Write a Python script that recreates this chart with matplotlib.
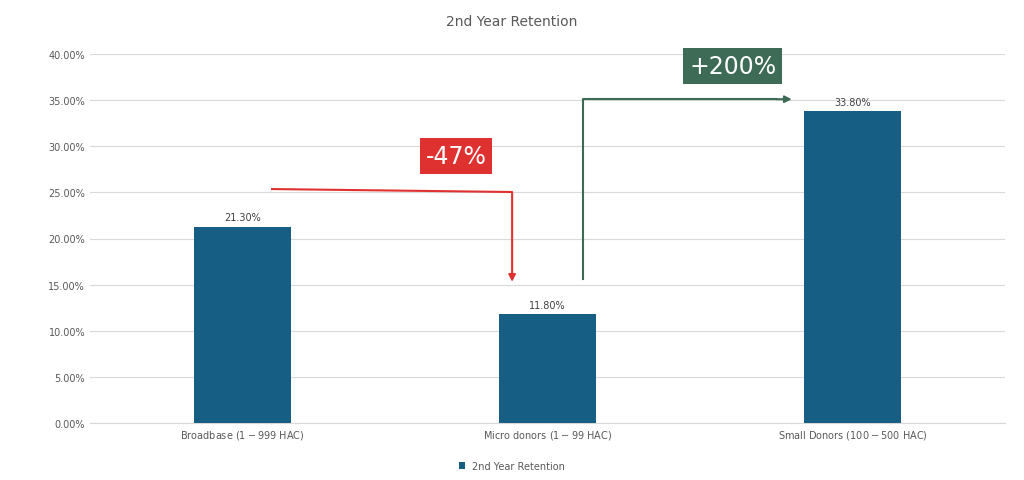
import matplotlib
matplotlib.use("Agg")
import matplotlib.pyplot as plt

categories = ["Broadbase ($1-$999 HAC)", "Micro donors ($1 - $99 HAC)", "Small Donors ($100 - $500 HAC)"]
values = [21.3, 11.8, 33.8]
series_name = "2nd Year Retention"

fig = plt.figure(figsize=(10.24, 4.81), dpi=100)
ax = fig.add_axes([90/1024, 1-424/481, 915/1024, 369/481])
x = range(len(categories))
bars = ax.bar(x, values, width=0.315, color="#175E84", label=series_name, zorder=3)
for xi, v in zip(x, values):
    ax.text(xi, v + 0.5, f"{v:.2f}%", ha="center", va="bottom", fontsize=7, color="#404040")
ax.set_xlim(-0.5, 2.5)
ax.set_ylim(0, 40)
ax.set_yticks([i*5 for i in range(9)])
ax.set_yticklabels([f"{i*5:.2f}%" for i in range(9)], fontsize=7, color="#595959")
ax.set_xticks(list(x))
ax.set_xticklabels(categories, fontsize=7, color="#595959")
ax.tick_params(length=0)
ax.grid(axis="y", color="#D9D9D9", lw=0.8, zorder=0)
for s in ["top", "right", "left"]:
    ax.spines[s].set_visible(False)
ax.spines["bottom"].set_color("#D9D9D9")
fig.suptitle("2nd Year Retention", y=1-15/481, fontsize=10, color="#595959")

red = "#E03131"
ax.plot([0.097, 0.884, 0.884], [25.36, 25.04, 16.0], color=red, lw=1.5, zorder=4)
ax.annotate("", xy=(0.884, 15.0), xytext=(0.884, 16.2),
            arrowprops=dict(arrowstyle="-|>", color=red, lw=1.5), zorder=4)
ax.text(0.70, 28.9, "-47%", ha="center", va="center", fontsize=17, color="white",
        bbox=dict(boxstyle="square,pad=0.25", fc=red, ec="none"))

green = "#3E6B55"
ax.plot([1.116, 1.116, 1.75], [15.6, 35.1, 35.1], color=green, lw=1.5, zorder=4)
ax.annotate("", xy=(1.81, 35.1), xytext=(1.74, 35.1),
            arrowprops=dict(arrowstyle="-|>", color=green, lw=1.5), zorder=4)
ax.text(1.608, 38.7, "+200%", ha="center", va="center", fontsize=17, color="white",
        bbox=dict(boxstyle="square,pad=0.25", fc=green, ec="none"))

fig.legend(loc="center", bbox_to_anchor=(0.5, 1-467/481), frameon=False, fontsize=7,
           handlelength=0.6, handleheight=0.6, labelcolor="#595959")
fig.savefig("out.png", dpi=100)
